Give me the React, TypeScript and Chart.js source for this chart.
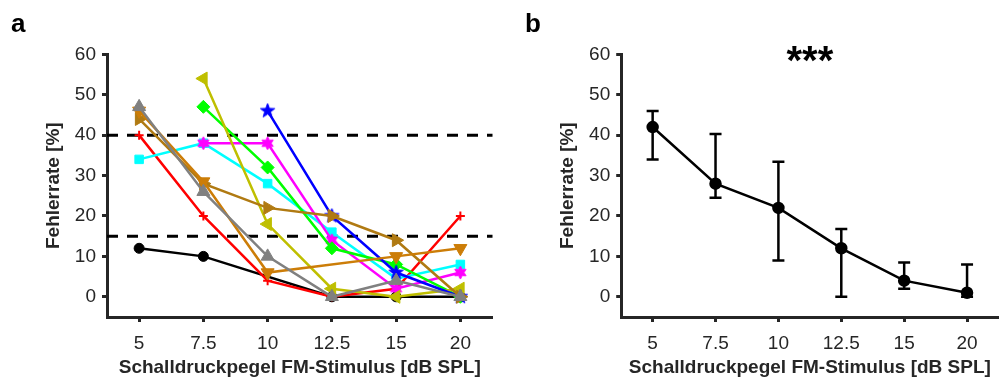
import React, { useEffect, useRef } from 'react';
import { Chart, registerables } from 'chart.js';

Chart.register(...registerables);

// ---------- data ----------
const levels = ['5', '7.5', '10', '12.5', '15', '20'];
const yTickValues = [0, 10, 20, 30, 40, 50, 60];
const thresholds = [40, 15];

// panel a: individual subjects (error rate in %)
const subjBlack = [12, 10, null, 0, 0, 0];
const subjRed = [40, 20, 4, 0, 2, 20];
const subjCyan = [34, 38, 28, 16, 4.5, 8];
const subjMagenta = [null, 38, 38, 14, 2, 6];
const subjGreen = [null, 47, 32, 12, 8, 0];
const subjOlive = [null, 54, 18, 2, 0, 2];
const subjBlue = [null, null, 46, 20, 6, 0];
const subjBrown = [44, 28, 22, 20, 14, 0];
const subjOrange = [46, 28.5, 6, null, 10, 12];
const subjGray = [47, 26, 10, 0, 4, 0];

// panel b: summary
const meanRate = [42, 28, 22, 12, 4, 1];
const upperRate = [46, 40.3, 33.4, 16.8, 8.5, 8];
const lowerRate = [34, 24.5, 9, 0, 2, 0];

const xTitle = 'Schalldruckpegel FM-Stimulus [dB SPL]';
const yTitle = 'Fehlerrate [%]';

// ---------- styling ----------
const FONT = "'Liberation Sans', Arial, Helvetica, sans-serif";
const AXIS = '#262626';
const H = 379;
const PLOT_TOP = 54.3;
const PLOT_BOTTOM = 317;

function starCanvas(points: number, outer: number, inner: number, color: string) {
  const size = Math.ceil(outer * 2 + 4);
  const c = document.createElement('canvas');
  c.width = size;
  c.height = size;
  const g = c.getContext('2d')!;
  g.translate(size / 2, size / 2);
  g.beginPath();
  for (let i = 0; i < points * 2; i++) {
    const r = i % 2 === 0 ? outer : inner;
    const a = -Math.PI / 2 + (i * Math.PI) / points;
    g.lineTo(r * Math.cos(a), r * Math.sin(a));
  }
  g.closePath();
  g.fillStyle = color;
  g.fill();
  g.strokeStyle = color;
  g.lineWidth = 1;
  g.stroke();
  return c;
}

const thresholdPlugin = {
  id: 'thresholds',
  beforeDatasetsDraw(chart: any, _args: any, opts: any) {
    const values: number[] = opts.values || [];
    if (!values.length) return;
    const { ctx, chartArea, scales } = chart;
    const y = scales.y;
    ctx.save();
    ctx.strokeStyle = '#000';
    ctx.lineWidth = 3;
    ctx.setLineDash([11, 9]);
    values.forEach((v) => {
      const py = y.getPixelForValue(v);
      ctx.beginPath();
      ctx.moveTo(chartArea.left, py);
      ctx.lineTo(chartArea.right, py);
      ctx.stroke();
    });
    ctx.restore();
  },
};

const errorBarPlugin = {
  id: 'errorBars',
  afterDatasetsDraw(chart: any, _args: any, opts: any) {
    const lower: number[] = opts.lower || [];
    const upper: number[] = opts.upper || [];
    if (!lower.length) return;
    const { ctx, scales } = chart;
    const { x, y } = scales;
    ctx.save();
    ctx.strokeStyle = '#000';
    ctx.lineWidth = 2.5;
    lower.forEach((lo, i) => {
      const px = x.getPixelForValue(i);
      const yl = y.getPixelForValue(lo);
      const yu = y.getPixelForValue(upper[i]);
      ctx.beginPath();
      ctx.moveTo(px, yl);
      ctx.lineTo(px, yu);
      ctx.moveTo(px - 6, yl);
      ctx.lineTo(px + 6, yl);
      ctx.moveTo(px - 6, yu);
      ctx.lineTo(px + 6, yu);
      ctx.stroke();
    });
    ctx.restore();
  },
};

const panelTextPlugin = {
  id: 'panelText',
  afterDraw(chart: any, _args: any, opts: any) {
    const { ctx, chartArea } = chart;
    ctx.save();
    ctx.fillStyle = '#000';
    ctx.textBaseline = 'alphabetic';
    if (opts.letter) {
      ctx.font = `bold 26px ${FONT}`;
      ctx.textAlign = 'left';
      ctx.fillText(opts.letter, 11, 32);
    }
    if (opts.title) {
      ctx.font = `bold 40px ${FONT}`;
      ctx.textAlign = 'center';
      ctx.fillText(opts.title, (chartArea.left + chartArea.right) / 2, 74);
    }
    ctx.restore();
  },
};

function makeOptions(axisWidth: number, rightPad: number, plugins: any) {
  const tickFont = { family: FONT, size: 19 };
  const titleFont = { family: FONT, size: 19, weight: 'bold' as const };
  return {
    responsive: false,
    maintainAspectRatio: false,
    animation: false as const,
    devicePixelRatio: 1,
    events: [],
    layout: { padding: { top: PLOT_TOP, left: 0, right: rightPad, bottom: 0 } },
    plugins: {
      legend: { display: false },
      tooltip: { enabled: false },
      ...plugins,
    },
    scales: {
      x: {
        type: 'category' as const,
        labels: levels,
        offset: true,
        afterFit: (s: any) => {
          s.height = H - PLOT_BOTTOM;
          s.paddingLeft = 0;
          s.paddingRight = 0;
        },
        grid: {
          display: true,
          drawOnChartArea: false,
          drawTicks: true,
          tickLength: 5,
          tickWidth: 3,
          tickColor: AXIS,
          offset: false,
        },
        border: { display: true, color: AXIS, width: 3 },
        ticks: { color: AXIS, font: tickFont, padding: 10, maxRotation: 0, autoSkip: false },
        title: { display: true, text: xTitle, color: AXIS, font: titleFont, padding: { top: 0, bottom: 0 } },
      },
      y: {
        type: 'linear' as const,
        min: -5,
        max: 60,
        afterBuildTicks: (s: any) => {
          s.ticks = yTickValues.map((v) => ({ value: v }));
        },
        afterFit: (s: any) => {
          s.width = axisWidth;
          s.paddingTop = 0;
          s.paddingBottom = 0;
        },
        grid: {
          display: true,
          drawOnChartArea: false,
          drawTicks: true,
          tickLength: 5,
          tickWidth: 3,
          tickColor: AXIS,
        },
        border: { display: true, color: AXIS, width: 3 },
        ticks: { color: AXIS, font: tickFont, padding: 6 },
        title: { display: true, text: yTitle, color: AXIS, font: titleFont, padding: { top: 42, bottom: 0 } },
      },
    },
  };
}

export default function App() {
  const leftRef = useRef<HTMLCanvasElement>(null);
  const rightRef = useRef<HTMLCanvasElement>(null);

  useEffect(() => {
    const series = [
      { data: subjBlack, color: '#000000', style: 'circle', radius: 5, rot: 0 },
      { data: subjRed, color: '#ff0000', style: 'cross', radius: 4.5, rot: 0 },
      { data: subjCyan, color: '#00ffff', style: 'rect', radius: 6, rot: 0 },
      { data: subjMagenta, color: '#ff00ff', style: starCanvas(6, 6.5, 3.6, '#ff00ff'), radius: 6, rot: 0 },
      { data: subjGreen, color: '#00ff00', style: 'rectRot', radius: 6.5, rot: 0 },
      { data: subjOlive, color: '#bfbf00', style: 'triangle', radius: 7.5, rot: -90 },
      { data: subjBlue, color: '#0000ff', style: starCanvas(5, 7.5, 3.1, '#0000ff'), radius: 7, rot: 0 },
      { data: subjBrown, color: '#b07a12', style: 'triangle', radius: 7.5, rot: 90 },
      { data: subjOrange, color: '#cc7d08', style: 'triangle', radius: 7.5, rot: 180 },
      { data: subjGray, color: '#808080', style: 'triangle', radius: 7.5, rot: 0 },
    ];
    const n = series.length;
    const leftDatasets = series.map((s, i) => ({
      data: s.data,
      borderColor: s.color,
      backgroundColor: s.color,
      borderWidth: 2.5,
      pointStyle: s.style as any,
      pointRadius: s.radius,
      pointRotation: s.rot,
      pointBackgroundColor: s.color,
      pointBorderColor: s.color,
      pointBorderWidth: s.style === 'cross' ? 2 : 1,
      spanGaps: true,
      tension: 0,
      order: n - i,
    }));

    const leftChart = new Chart(leftRef.current!, {
      type: 'line',
      data: { labels: levels, datasets: leftDatasets },
      options: makeOptions(107, 17.5, {
        thresholds: { values: thresholds },
        panelText: { letter: 'a' },
      }) as any,
      plugins: [thresholdPlugin, panelTextPlugin],
    });

    const rightChart = new Chart(rightRef.current!, {
      type: 'line',
      data: {
        labels: levels,
        datasets: [
          {
            data: meanRate,
            borderColor: '#000',
            backgroundColor: '#000',
            borderWidth: 2.5,
            pointStyle: 'circle',
            pointRadius: 5,
            pointBackgroundColor: '#000',
            pointBorderColor: '#000',
            tension: 0,
          },
        ],
      },
      options: makeOptions(107.2, 0, {
        errorBars: { lower: lowerRate, upper: upperRate },
        panelText: { letter: 'b', title: '***' },
      }) as any,
      plugins: [errorBarPlugin, panelTextPlugin],
    });

    return () => {
      leftChart.destroy();
      rightChart.destroy();
    };
  }, []);

  return (
    <div style={{ position: 'absolute', left: 0, top: 0, width: 1006, height: H, background: '#fff', overflow: 'hidden' }}>
      <canvas ref={leftRef} width={510} height={H} style={{ position: 'absolute', left: 0, top: 0, width: 510, height: H }} />
      <canvas ref={rightRef} width={492} height={H} style={{ position: 'absolute', left: 514, top: 0, width: 492, height: H }} />
    </div>
  );
}
